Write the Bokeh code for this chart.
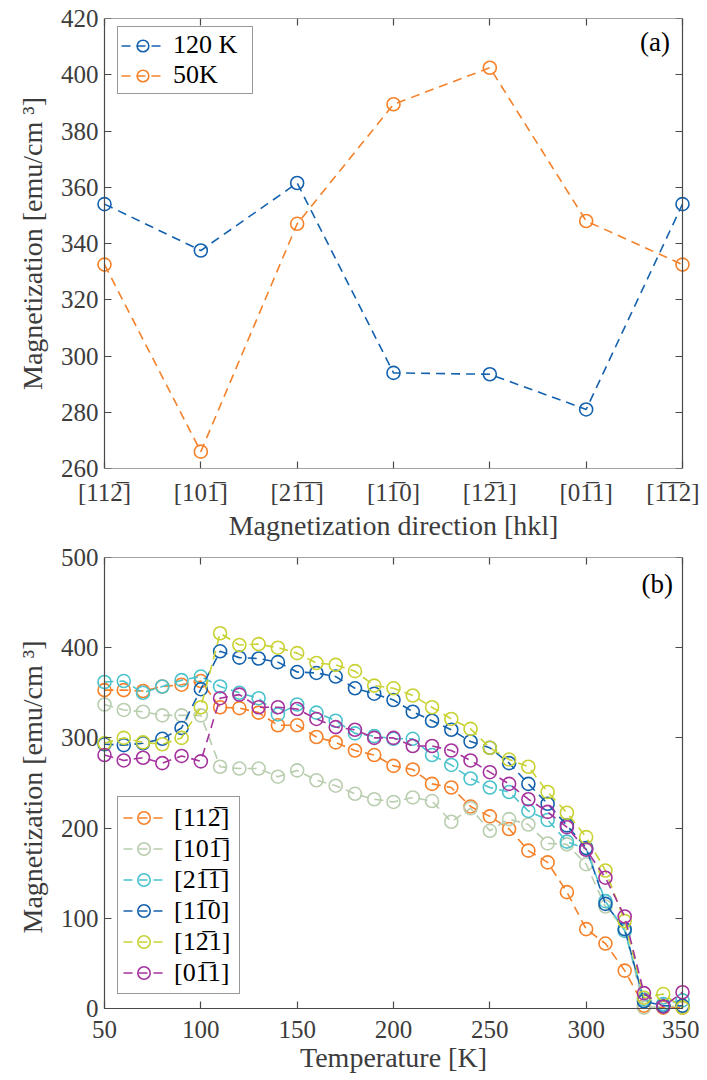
from bokeh.plotting import figure
from bokeh.models import (FixedTicker, LinearAxis, Legend, LegendItem, Label, Range1d)
from bokeh.layouts import column
from bokeh.embed import file_html
from bokeh.resources import INLINE

# ---------------- data: panel (a) ----------------
directions = ["[112\u0305]", "[101\u0305]", "[21\u03051\u0305]", "[11\u03050]",
              "[12\u03051]", "[01\u03051]", "[1\u03051\u03052]"]
m_120K = [354, 337.5, 361.5, 294, 293.5, 281, 354]
m_50K = [332.5, 266, 347, 389.5, 402.5, 348, 332.5]
a_yticks = [260, 280, 300, 320, 340, 360, 380, 400, 420]

# ---------------- data: panel (b) ----------------
temps = [50, 60, 70, 80, 90, 100, 110, 120, 130, 140, 150, 160, 170, 180, 190, 200,
         210, 220, 230, 240, 250, 260, 270, 280, 290, 300, 310, 320, 330, 340, 350]
m_112 = [353, 353, 352, 357, 359, 363, 334, 333, 328, 314, 314, 301, 295, 286, 281, 269,
         265, 249, 245, 224, 213, 199, 175, 162, 129, 88, 72, 42, 3, 1, 1]
m_101 = [337, 331, 329, 325, 325, 325, 268, 266, 266, 257, 264, 253, 247, 238, 232, 229,
         234, 230, 207, 222, 197, 210, 204, 183, 182, 160, 113, 88, 1, 2, 3]
m_211 = [362, 363, 350, 357, 364, 368, 357, 350, 344, 326, 337, 328, 319, 305, 302, 299,
         299, 281, 270, 255, 245, 240, 219, 209, 185, 177, 119, 86, 10, 5, 9]
m_110 = [293, 292, 294, 299, 311, 354, 396, 389, 388, 384, 373, 372, 368, 355, 349, 342,
         329, 319, 309, 296, 289, 272, 249, 227, 203, 178, 116, 88, 8, 3, 3]
m_121 = [294, 300, 295, 293, 300, 334, 416, 403, 404, 400, 394, 383, 381, 374, 358, 355,
         347, 334, 321, 310, 289, 276, 268, 240, 217, 190, 153, 97, 12, 16, 1]
m_011 = [281, 275, 278, 272, 280, 274, 344, 348, 334, 334, 332, 321, 312, 309, 300, 300,
         291, 291, 286, 275, 262, 249, 232, 218, 201, 176, 145, 102, 17, 2, 18]
b_labels = ["[112\u0305]", "[101\u0305]", "[21\u03051\u0305]", "[11\u03050]", "[12\u03051]", "[01\u03051]"]
b_xticks = [50, 100, 150, 200, 250, 300, 350]
b_yticks = [0, 100, 200, 300, 400, 500]

# ---------------- style ----------------
FONT = "Liberation Serif"
TICK_SIZE = "25px"
LABEL_SIZE = "28px"
AXIS_COLOR = "#4a4a4a"
TEXT_COLOR = "#3c3c3c"
BLUE = "#1462AE"
ORANGE = "#F5822A"
b_colors = [ORANGE, "#B9CDAF", "#4BC3CC", BLUE, "#C8D232", "#A5339E"]
DASH = "9 6"
LW = 1.6
MSIZE = 13
BOX_W = 578


def make_fig(xlim, ylim, box_h, pads, b_top, b_bottom, xticks, yticks, xlabel, ylabel,
             x_standoff, overrides=None):
    # pads = (left, right, top, bottom): px of frame beyond the axis box,
    # so that markers sitting on the box edge are drawn whole
    pl, pr, pt, pbm = pads
    ux = (xlim[1] - xlim[0]) / BOX_W
    uy = (ylim[1] - ylim[0]) / box_h
    p = figure(frame_width=BOX_W + pl + pr, frame_height=box_h + pt + pbm,
               x_range=Range1d(xlim[0] - pl * ux, xlim[1] + pr * ux),
               y_range=Range1d(ylim[0] - pbm * uy, ylim[1] + pt * uy),
               min_border_left=104 - pl, min_border_right=17 - pr, min_border_top=b_top,
               min_border_bottom=b_bottom, toolbar_location=None, tools="",
               output_backend="svg")
    p.grid.visible = False
    p.outline_line_color = None
    p.background_fill_color = "white"
    p.border_fill_color = "white"
    # label-carrying axes at the frame edge (lines/ticks hidden)
    for ax in p.axis:
        ax.axis_line_color = None
        ax.major_tick_line_color = None
        ax.major_tick_in = 0
        ax.major_tick_out = 0
        ax.minor_tick_line_color = None
        ax.major_label_text_font = FONT
        ax.major_label_text_font_size = TICK_SIZE
        ax.major_label_text_color = TEXT_COLOR
        ax.axis_label_text_font = FONT
        ax.axis_label_text_font_size = LABEL_SIZE
        ax.axis_label_text_font_style = "normal"
        ax.axis_label_text_color = TEXT_COLOR
    bx = p.below[0]
    bx.ticker = FixedTicker(ticks=xticks)
    bx.axis_label = xlabel
    bx.major_label_standoff = x_standoff - pbm
    bx.axis_label_standoff = 1
    if overrides:
        bx.major_label_overrides = overrides
    ly = p.left[0]
    ly.ticker = FixedTicker(ticks=yticks)
    ly.axis_label = ylabel
    ly.major_label_standoff = 6 - pl
    ly.axis_label_standoff = 10
    # the box: axes fixed at the data limits, ticks pointing inward, no labels
    for side, loc, ticks, bounds in (("below", ylim[0], xticks, xlim),
                                      ("above", ylim[1], xticks, xlim),
                                      ("left", xlim[0], yticks, ylim),
                                      ("right", xlim[1], yticks, ylim)):
        bax = LinearAxis(fixed_location=loc, bounds=bounds, ticker=FixedTicker(ticks=ticks),
                         axis_line_color=AXIS_COLOR, axis_line_width=1.2,
                         major_tick_line_color=AXIS_COLOR, major_tick_line_width=1.2,
                         major_tick_in=7, major_tick_out=0, minor_tick_line_color=None,
                         major_label_overrides={t: "" for t in ticks},
                         major_label_text_font_size="0px", major_label_standoff=0)
        p.add_layout(bax, side)
    return p


def series(p, xs, ys, color):
    r1 = p.line(xs, ys, line_color=color, line_width=LW, line_dash=DASH)
    r2 = p.scatter(xs, ys, marker="circle", size=MSIZE, line_color=color,
                   line_width=LW, fill_alpha=0)
    return [r1, r2]


YLABEL = "Magnetization [emu/cm \u00b3]"

# ---------------- panel (a) ----------------
xpos = list(range(len(directions)))
PADS_A = (8, 8, 0, 0)
pa = make_fig((0, len(directions) - 1), (a_yticks[0], a_yticks[-1]), 450, PADS_A, 18, 73,
              xpos, a_yticks, "Magnetization direction [hkl]", YLABEL, 10,
              overrides={i: d for i, d in enumerate(directions)})
ra1 = series(pa, xpos, m_120K, BLUE)
ra2 = series(pa, xpos, m_50K, ORANGE)
leg_a = Legend(items=[LegendItem(label="120 K", renderers=ra1),
                      LegendItem(label="50K", renderers=ra2)],
               location=(13 + PADS_A[0], 450 - 12 - 64), padding=3, spacing=0,
               label_text_font=FONT, label_text_font_size="26px", label_text_color="black",
               label_height=29, glyph_height=29, glyph_width=43, label_standoff=9,
               label_width=76,
               border_line_color="#333333", border_line_width=1.2,
               background_fill_color="white", background_fill_alpha=1)
pa.add_layout(leg_a, "center")
pa.add_layout(Label(x=5.87, y=411.6, text="(a)", text_align="right", text_baseline="middle",
                    text_font=FONT, text_font_size="27px", text_color="black"))

# ---------------- panel (b) ----------------
PADS_B = (8, 8, 0, 8)
pb = make_fig((b_xticks[0], b_xticks[-1]), (b_yticks[0], b_yticks[-1]), 451, PADS_B, 14, 64,
              b_xticks, b_yticks, "Temperature [K]", YLABEL, 12)
items = []
for lab, ys, col in zip(b_labels, [m_112, m_101, m_211, m_110, m_121, m_011], b_colors):
    rs = series(pb, temps, ys, col)
    items.append(LegendItem(label=lab, renderers=rs))
leg_b = Legend(items=items, location=(13 + PADS_B[0], 14 + PADS_B[3]), padding=5, spacing=0,
               label_text_font=FONT, label_text_font_size="26px", label_text_color="black",
               label_height=31, glyph_height=31, glyph_width=41, label_standoff=10,
               label_width=60,
               border_line_color="#333333", border_line_width=1.2,
               background_fill_color="white", background_fill_alpha=1)
pb.add_layout(leg_b, "center")
pb.add_layout(Label(x=345, y=470.5, text="(b)", text_align="right", text_baseline="middle",
                    text_font=FONT, text_font_size="27px", text_color="black"))

layout = column(pa, pb, spacing=0)
open("out.html", "w").write(file_html(layout, INLINE))
